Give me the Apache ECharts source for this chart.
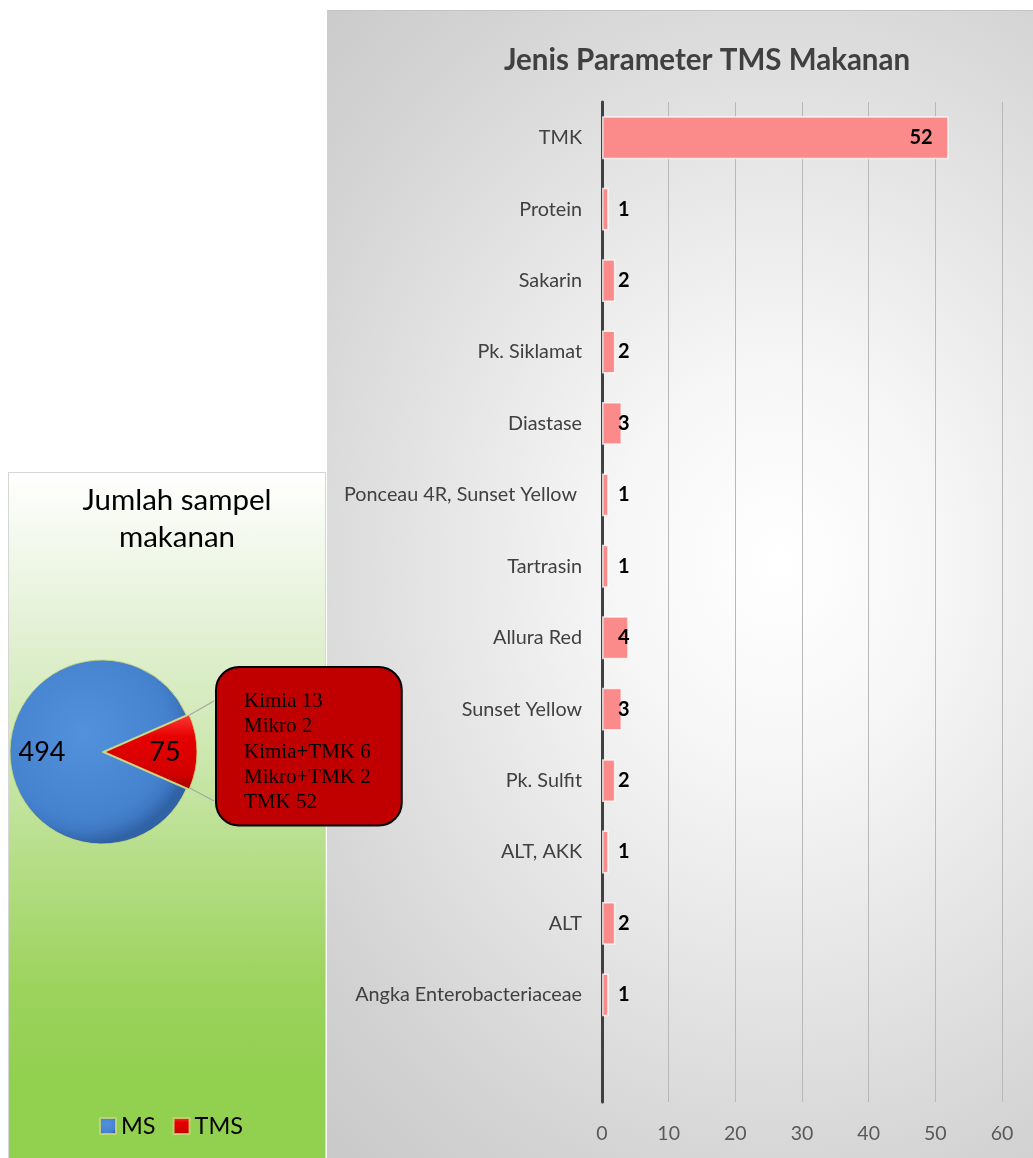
<!DOCTYPE html>
<html>
<head>
<meta charset="utf-8">
<script src="https://cdn.jsdelivr.net/npm/echarts@6/dist/echarts.min.js"></script>
<style>
  html, body { margin: 0; padding: 0; background: #ffffff; }
  #bgR { position: absolute; left: 327px; top: 10px; width: 706px; height: 1148px;
    border-top: 1px solid #c4c4c4;
    background: radial-gradient(ellipse 95% 70% at 64% 48%, #ffffff 0%, #f6f6f6 25%, #e3e3e3 55%, #d3d3d3 80%, #c9c9c9 100%); }
  #bgL { position: absolute; left: 8px; top: 472px; width: 316px; height: 686px;
    border: 1px solid #d6d6d6; border-bottom: none;
    background: linear-gradient(to bottom, #ffffff 0%, #e4f1d6 22%, #cde8b0 40%, #b3dd84 58%, #9cd35d 75%, #92d050 88%, #92d050 100%); }
  #chart { position: absolute; left: 0; top: 0; width: 1033px; height: 1158px; }
</style>
</head>
<body>
<div id="bgR"></div>
<div id="bgL"></div>
<div id="chart"></div>
<script>
// ---- data ----
const barCategories = ['TMK', 'Protein', 'Sakarin', 'Pk. Siklamat', 'Diastase', 'Ponceau 4R, Sunset Yellow ',
  'Tartrasin', 'Allura Red', 'Sunset Yellow', 'Pk. Sulfit', 'ALT, AKK', 'ALT', 'Angka Enterobacteriaceae', ''];
const barValues = [52, 1, 2, 2, 3, 1, 1, 4, 3, 2, 1, 2, 1, null];
const xTicks = [0, 10, 20, 30, 40, 50, 60];

const pieNames = ['MS', 'TMS'];
const pieValues = [494, 75];
const tmsBreakdownNames = ['Kimia', 'Mikro', 'Kimia+TMK', 'Mikro+TMK', 'TMK'];
const tmsBreakdownValues = [13, 2, 6, 2, 52];

const barTitle = 'Jenis Parameter TMS Makanan';
const pieTitle = 'Jumlah sampel\nmakanan';

// ---- styles ----
const blueFill = { type: 'radial', x: 0.42, y: 0.4, r: 0.62, colorStops: [
  { offset: 0, color: '#5291dc' }, { offset: 0.75, color: '#4683cf' }, { offset: 0.88, color: '#3f79c4' }, { offset: 1, color: '#2f63a6' }] };
const redFill = { type: 'linear', x: 0, y: 0, x2: 0, y2: 1, colorStops: [
  { offset: 0, color: '#ff3838' }, { offset: 0.3, color: '#e60000' }, { offset: 0.8, color: '#d20000' }, { offset: 1, color: '#a00000' }] };

const calloutText = tmsBreakdownNames.map((n, i) => n + ' ' + tmsBreakdownValues[i]).join('\n');

const pieData = pieNames.map((n, i) => ({ name: n, value: pieValues[i], selected: i === 1,
  itemStyle: { color: i === 0 ? blueFill : redFill } }));
const pieLabelData = pieNames.map((n, i) => ({ name: n, value: pieValues[i], selected: i === 1 }));

const barData = barValues.map(v => v === null ? null : (v > 20 ? { value: v, label: { position: 'insideRight', distance: 16 } } : v));

const PIE_CENTER = [102, 752];
const PIE_R = 92;

const chart = echarts.init(document.getElementById('chart'), null, { renderer: 'canvas' });
const option = {
  backgroundColor: 'transparent',
  animation: false,
  title: [
    { text: barTitle, left: 702, top: 40, textAlign: 'center',
      textStyle: { fontFamily: 'Lato', fontWeight: 'bold', fontSize: 29.5, color: '#404040' } },
    { text: pieTitle, left: 172, top: 477, textAlign: 'center',
      textStyle: { fontFamily: 'Lato', fontWeight: 'normal', fontSize: 29.5, lineHeight: 37, color: '#000000' } }
  ],
  legend: {
    data: pieNames, left: 99, top: 1114, padding: 0, itemWidth: 16, itemHeight: 16, itemGap: 17, icon: 'rect',
    textStyle: { fontFamily: 'Lato', fontSize: 23.5, color: '#000000', padding: [0, 0, 0, 0] }
  },
  grid: { left: 602, right: 31, top: 102, bottom: 56, containLabel: false },
  xAxis: {
    type: 'value', min: 0, max: 60, interval: 10, position: 'bottom',
    axisLine: { show: false }, axisTick: { show: false },
    splitLine: { show: true, lineStyle: { color: '#b8b8b8', width: 1 } },
    axisLabel: { margin: 22, fontFamily: 'Lato', fontSize: 19.5, color: '#595959',
      formatter: v => xTicks.includes(v) ? String(v) : '' }
  },
  yAxis: {
    type: 'category', data: barCategories, inverse: true,
    axisLine: { show: true, lineStyle: { color: '#404040', width: 3 } },
    axisTick: { show: false },
    axisLabel: { margin: 20, fontFamily: 'Lato', fontSize: 19.8, color: '#404040' }
  },
  graphic: [
    { type: 'line', shape: { x1: 186, y1: 717, x2: 214, y2: 701 }, style: { stroke: '#a6a6a6', lineWidth: 1.2 }, z: 1 },
    { type: 'line', shape: { x1: 186, y1: 786, x2: 214, y2: 801 }, style: { stroke: '#a6a6a6', lineWidth: 1.2 }, z: 1 },
    { type: 'text', x: 217, y: 668, z: 10,
      style: { text: calloutText, fill: '#000000', font: '21px "Liberation Serif"', lineHeight: 25.3,
        backgroundColor: '#c00000', borderColor: '#000000', borderWidth: 2, borderRadius: 22,
        padding: [21, 30, 9, 27], align: 'left', verticalAlign: 'top' } }
  ],
  series: [
    {
      type: 'bar', data: barData, barCategoryGap: '40%', z: 3,
      itemStyle: { color: '#fb8b8b', borderColor: 'rgba(255,255,255,0.75)', borderWidth: 1.5 },
      label: { show: true, position: 'insideLeft', distance: 16, fontFamily: 'Lato', fontWeight: 'bold',
        fontSize: 20, color: '#000000' }
    },
    {
      type: 'pie', name: 'Jumlah sampel makanan', center: PIE_CENTER, radius: PIE_R, startAngle: 336.3,
      clockwise: true, selectedMode: 'single', selectedOffset: 3, data: pieData, z: 2,
      emphasis: { disabled: true },
      itemStyle: { borderColor: 'rgba(200,215,120,0.85)', borderWidth: 1 },
      label: { show: false }, labelLine: { show: false }
    },
    {
      type: 'pie', name: 'pieLabels', center: PIE_CENTER, radius: 114, startAngle: 336.3,
      clockwise: true, selectedMode: 'single', selectedOffset: 3, data: pieLabelData, silent: true, z: 3,
      legendHoverLink: false, emphasis: { disabled: true },
      itemStyle: { color: 'rgba(0,0,0,0)', borderWidth: 0 },
      label: { show: true, position: 'inside', fontFamily: 'Lato', fontSize: 27, color: '#000000',
        formatter: p => String(p.value) },
      labelLine: { show: false }
    }
  ]
};
chart.setOption(option);
</script>
</body>
</html>
